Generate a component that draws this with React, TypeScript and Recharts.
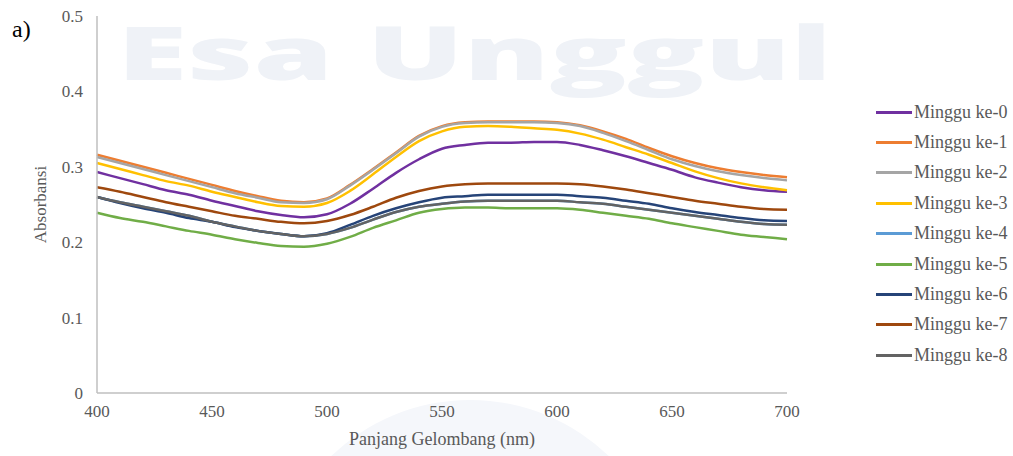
import React from "react";
import { LineChart, Line, XAxis, YAxis, Label } from "recharts";

const wavelengths = [400,410,420,430,440,450,460,470,480,490,500,510,520,530,540,550,560,570,580,590,600,610,620,630,640,650,660,670,680,690,700];

const minggu0 = [0.293,0.285,0.277,0.269,0.263,0.255,0.248,0.241,0.236,0.233,0.237,0.251,0.271,0.292,0.310,0.324,0.329,0.332,0.332,0.333,0.333,0.329,0.322,0.314,0.305,0.296,0.286,0.279,0.273,0.269,0.267];
const minggu1 = [0.316,0.308,0.300,0.292,0.284,0.276,0.268,0.261,0.255,0.253,0.258,0.276,0.297,0.319,0.341,0.354,0.359,0.360,0.360,0.360,0.359,0.355,0.347,0.337,0.325,0.314,0.305,0.298,0.293,0.289,0.286];
const minggu2 = [0.313,0.305,0.297,0.289,0.281,0.273,0.265,0.259,0.253,0.252,0.257,0.275,0.296,0.318,0.340,0.353,0.358,0.359,0.359,0.359,0.358,0.354,0.345,0.334,0.322,0.310,0.301,0.294,0.289,0.285,0.282];
const minggu3 = [0.305,0.297,0.289,0.281,0.275,0.267,0.260,0.253,0.248,0.247,0.252,0.268,0.290,0.313,0.334,0.347,0.353,0.354,0.353,0.351,0.349,0.344,0.336,0.326,0.316,0.305,0.294,0.285,0.278,0.273,0.269];
const minggu4 = [0.260,0.253,0.247,0.241,0.235,0.227,0.221,0.215,0.211,0.208,0.211,0.219,0.230,0.240,0.247,0.251,0.254,0.255,0.255,0.255,0.255,0.253,0.251,0.247,0.243,0.239,0.235,0.231,0.227,0.224,0.223];
const minggu5 = [0.239,0.232,0.227,0.221,0.215,0.210,0.204,0.199,0.195,0.194,0.198,0.207,0.219,0.229,0.239,0.244,0.246,0.246,0.245,0.245,0.245,0.243,0.239,0.235,0.231,0.225,0.220,0.215,0.210,0.207,0.204];
const minggu6 = [0.260,0.252,0.245,0.239,0.232,0.227,0.220,0.215,0.211,0.208,0.212,0.223,0.235,0.245,0.253,0.259,0.261,0.263,0.263,0.263,0.263,0.261,0.259,0.255,0.251,0.245,0.240,0.236,0.232,0.229,0.228];
const minggu7 = [0.273,0.267,0.260,0.253,0.247,0.241,0.235,0.231,0.227,0.225,0.228,0.236,0.247,0.259,0.268,0.274,0.277,0.278,0.278,0.278,0.278,0.277,0.274,0.270,0.265,0.260,0.255,0.251,0.247,0.244,0.243];
const minggu8 = [0.260,0.253,0.247,0.241,0.235,0.227,0.221,0.215,0.211,0.208,0.211,0.219,0.230,0.240,0.247,0.251,0.254,0.255,0.255,0.255,0.255,0.253,0.251,0.247,0.243,0.239,0.235,0.231,0.227,0.224,0.223];

const seriesNames = ["Minggu ke-0","Minggu ke-1","Minggu ke-2","Minggu ke-3","Minggu ke-4","Minggu ke-5","Minggu ke-6","Minggu ke-7","Minggu ke-8"];
const seriesValues = [minggu0,minggu1,minggu2,minggu3,minggu4,minggu5,minggu6,minggu7,minggu8];
const seriesColors = ["#7030A0","#ED7D31","#A5A5A5","#FFC000","#5B9BD5","#70AD47","#264478","#9E480E","#636363"];

const xTicks = [400,450,500,550,600,650,700];
const yTicks = [0,0.1,0.2,0.3,0.4,0.5];

const data = wavelengths.map((w, i) => {
  const row: Record<string, number> = { w };
  seriesNames.forEach((n, k) => { row[n] = seriesValues[k][i]; });
  return row;
});

const serif = "Liberation Serif, Times New Roman, serif";
const textGray = "#595959";

export default function App() {
  return (
    <div style={{ position: "absolute", left: 0, top: 0, width: 1013, height: 456, background: "#fff", overflow: "hidden" }}>
      <svg width={1013} height={456} style={{ position: "absolute", left: 0, top: 0 }}>
        <text x={117} y={80} textLength={715} lengthAdjust="spacingAndGlyphs" fontFamily="Open Sans, sans-serif" fontWeight={800} fontSize={74} fill="#eff2f7">Esa Unggul</text>
        <circle cx={470} cy={600} r={200} fill="#f5f7fb" />
      </svg>
      <div style={{ position: "absolute", left: 0, top: 0 }}>
        <LineChart width={1013} height={456} data={data} margin={{ top: 16, right: 226, bottom: 33, left: 37 }}>
          <XAxis
            dataKey="w"
            type="number"
            domain={[400, 700]}
            ticks={xTicks}
            tickLine={false}
            axisLine={{ stroke: "#bfbfbf", strokeWidth: 1.5 }}
            tick={{ fill: textGray, fontSize: 17, fontFamily: serif }}
            tickMargin={6}
            height={30}
          >
            <Label value="Panjang Gelombang (nm)" position="insideBottom" offset={-22} fill={textGray} fontSize={18} fontFamily={serif} />
          </XAxis>
          <YAxis
            type="number"
            domain={[0, 0.5]}
            ticks={yTicks}
            tickLine={false}
            axisLine={{ stroke: "#bfbfbf", strokeWidth: 1.5 }}
            tick={{ fill: textGray, fontSize: 17, fontFamily: serif }}
            tickMargin={8}
            width={60}
          >
            <Label value="Absorbansi" angle={-90} position="insideLeft" offset={3} fill={textGray} fontSize={17} fontFamily={serif} style={{ textAnchor: "middle" }} />
          </YAxis>
          {seriesNames.map((n, k) => (
            <Line key={n} dataKey={n} type="monotone" stroke={seriesColors[k]} strokeWidth={2.5} dot={false} isAnimationActive={false} />
          ))}
        </LineChart>
      </div>
      <div style={{ position: "absolute", left: 12, top: 16, fontFamily: serif, fontSize: 24, color: "#000" }}>a)</div>
      <div style={{ position: "absolute", left: 876, top: 97 }}>
        {seriesNames.map((n, k) => (
          <div key={n} style={{ display: "flex", alignItems: "center", height: 30.4 }}>
            <div style={{ width: 36, height: 3, background: seriesColors[k] }} />
            <span style={{ marginLeft: 2, fontFamily: serif, fontSize: 18, color: textGray, whiteSpace: "nowrap" }}>{n}</span>
          </div>
        ))}
      </div>
    </div>
  );
}
